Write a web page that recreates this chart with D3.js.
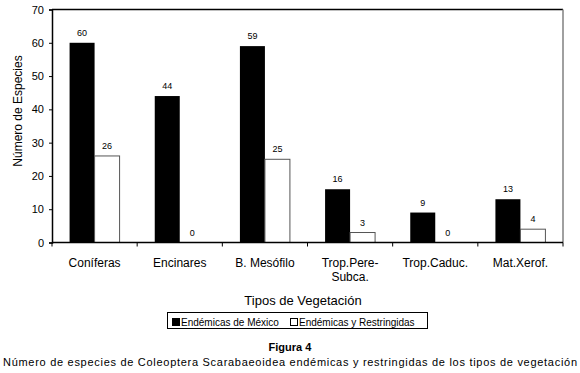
<!DOCTYPE html>
<html lang="en">
<head>
<meta charset="UTF-8">
<title>Figura 4</title>
<script src="https://d3js.org/d3.v7.min.js"></script>
<style>
  body { margin: 0; background: #fff; font-family: "Liberation Sans", Arial, sans-serif; }
  svg { display: block; }
</style>
</head>
<body>
<div id="chart"></div>
<script>
// data
const categories = ["Coníferas", "Encinares", "B. Mesófilo", "Trop.Pere-Subca.", "Trop.Caduc.", "Mat.Xerof."];
const categoryLines = [["Coníferas"], ["Encinares"], ["B. Mesófilo"], ["Trop.Pere-", "Subca."], ["Trop.Caduc."], ["Mat.Xerof."]];
const endemicasMexico = [60, 44, 59, 16, 9, 13];
const endemicasRestringidas = [26, 0, 25, 3, 0, 4];
const seriesNames = ["Endémicas de México", "Endémicas y Restringidas"];
const yTicks = [0, 10, 20, 30, 40, 50, 60, 70];

const W = 580, H = 373;
const plot = { left: 52, right: 563, top: 9.5, bottom: 242.5 };

const svg = d3.select("#chart").append("svg")
  .attr("width", W).attr("height", H);

const x = d3.scaleBand().domain(categories).range([plot.left, plot.right]);
const y = d3.scaleLinear().domain([0, 70]).range([plot.bottom, plot.top]);
const barW = 25;

// plot frame: top black, right gray
svg.append("line")
  .attr("x1", plot.left).attr("x2", plot.right)
  .attr("y1", plot.top).attr("y2", plot.top)
  .attr("stroke", "#000").attr("stroke-width", 1.5);
svg.append("line")
  .attr("x1", plot.right).attr("x2", plot.right)
  .attr("y1", plot.top).attr("y2", plot.bottom)
  .attr("stroke", "#808080").attr("stroke-width", 1.5);

// bars
const groups = svg.append("g").selectAll("g")
  .data(categories)
  .join("g");

groups.append("rect")
  .attr("x", d => x(d) + x.bandwidth() / 2 - barW)
  .attr("y", (d, i) => y(endemicasMexico[i]))
  .attr("width", barW)
  .attr("height", (d, i) => y(0) - y(endemicasMexico[i]))
  .attr("fill", "#000");

groups.append("rect")
  .attr("x", d => x(d) + x.bandwidth() / 2)
  .attr("y", (d, i) => y(endemicasRestringidas[i]))
  .attr("width", barW)
  .attr("height", (d, i) => y(0) - y(endemicasRestringidas[i]))
  .attr("fill", "#fff")
  .attr("stroke", (d, i) => endemicasRestringidas[i] > 0 ? "#555" : "none")
  .attr("stroke-width", 1);

// value labels
groups.append("text")
  .attr("x", d => x(d) + x.bandwidth() / 2 - barW / 2)
  .attr("y", (d, i) => y(endemicasMexico[i]) - 7)
  .attr("text-anchor", "middle")
  .attr("font-size", 9)
  .text((d, i) => endemicasMexico[i]);

groups.append("text")
  .attr("x", d => x(d) + x.bandwidth() / 2 + barW / 2)
  .attr("y", (d, i) => y(endemicasRestringidas[i]) - 7)
  .attr("text-anchor", "middle")
  .attr("font-size", 9)
  .text((d, i) => endemicasRestringidas[i]);

// y axis
const yAxis = svg.append("g")
  .attr("transform", `translate(${plot.left},0)`)
  .call(d3.axisLeft(y).tickValues(yTicks).tickSize(3).tickPadding(5));
yAxis.select(".domain").attr("stroke", "#000").attr("stroke-width", 1.5);
yAxis.selectAll("text").attr("font-size", 11).attr("font-family", "Liberation Sans, Arial, sans-serif").attr("fill", "#000");

// x axis with ticks at category boundaries
const xAxisG = svg.append("g");
xAxisG.append("line")
  .attr("x1", plot.left).attr("x2", plot.right)
  .attr("y1", plot.bottom).attr("y2", plot.bottom)
  .attr("stroke", "#000").attr("stroke-width", 1.5);
xAxisG.selectAll("line.tick")
  .data(categories.concat([null]))
  .join("line")
  .attr("class", "tick")
  .attr("x1", (d, i) => plot.left + i * x.step())
  .attr("x2", (d, i) => plot.left + i * x.step())
  .attr("y1", plot.bottom).attr("y2", plot.bottom + 4)
  .attr("stroke", "#000");

xAxisG.selectAll("text.cat")
  .data(categories)
  .join("text")
  .attr("class", "cat")
  .attr("x", d => x(d) + x.bandwidth() / 2)
  .attr("y", 267)
  .attr("text-anchor", "middle")
  .attr("font-size", 12)
  .each(function(d, i) {
    d3.select(this).selectAll("tspan")
      .data(categoryLines[i])
      .join("tspan")
      .attr("x", x(d) + x.bandwidth() / 2)
      .attr("dy", (t, j) => j === 0 ? 0 : 14)
      .text(t => t);
  });

// axis titles
svg.append("text")
  .attr("transform", "translate(22,111) rotate(-90)")
  .attr("text-anchor", "middle")
  .attr("font-size", 12)
  .text("Número de Especies");

svg.append("text")
  .attr("x", 303).attr("y", 305)
  .attr("text-anchor", "middle")
  .attr("font-size", 13)
  .text("Tipos de Vegetación");

// legend
const legend = svg.append("g");
legend.append("rect")
  .attr("x", 167.5).attr("y", 312.5).attr("width", 260).attr("height", 16)
  .attr("fill", "#fff").attr("stroke", "#000").attr("stroke-width", 1);
const legendX = [172, 290];
const legendFill = ["#000", "#fff"];
seriesNames.forEach((name, i) => {
  legend.append("rect")
    .attr("x", legendX[i] + 0.5).attr("y", 318.5).attr("width", 7).attr("height", 7)
    .attr("fill", legendFill[i]).attr("stroke", "#000");
  legend.append("text")
    .attr("x", legendX[i] + 9).attr("y", 325.5)
    .attr("font-size", 10)
    .text(name);
});

// caption
svg.append("text")
  .attr("x", 290).attr("y", 351)
  .attr("text-anchor", "middle")
  .attr("font-size", 11)
  .attr("font-weight", "bold")
  .text("Figura 4");

svg.append("text")
  .attr("x", 3).attr("y", 366)
  .attr("font-size", 11)
  .attr("textLength", 574)
  .attr("lengthAdjust", "spacing")
  .text("Número de especies de Coleoptera Scarabaeoidea endémicas y restringidas de los tipos de vegetación");
</script>
</body>
</html>
